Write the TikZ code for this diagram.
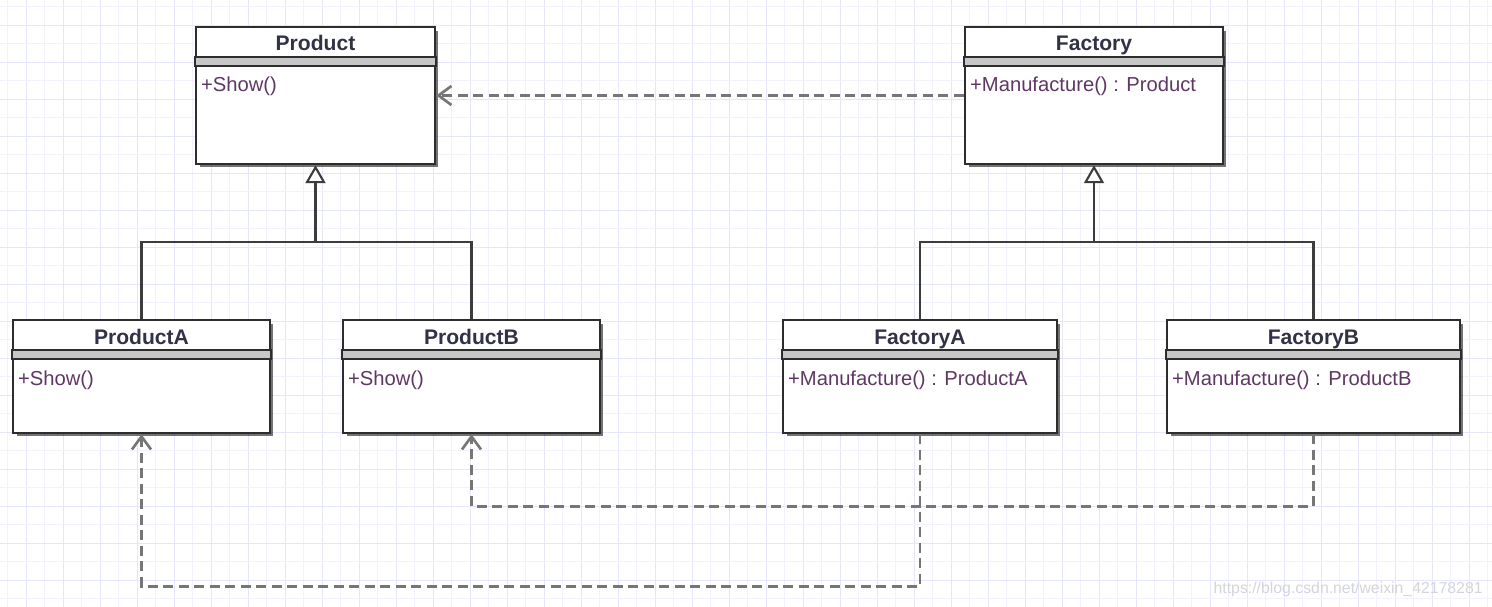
\documentclass[tikz,border=0pt]{standalone}
\usepackage{fontspec}
\setmainfont{Liberation Sans}
\usetikzlibrary{arrows.meta,positioning,shadows}
\definecolor{edge}{RGB}{45,45,45}
\definecolor{lnk}{RGB}{60,60,60}
\definecolor{depgray}{RGB}{118,118,118}
\definecolor{opname}{RGB}{95,55,100}
\definecolor{clsname}{RGB}{50,50,70}
\definecolor{gridlo}{RGB}{242,242,254}
\definecolor{gridhi}{RGB}{230,230,251}
\definecolor{wmark}{RGB}{212,212,222}

\begin{document}
\begin{tikzpicture}[x=0.02cm,y=-0.02cm,
  cls/.style={draw=edge,line width=1.4pt,fill=white,inner sep=0pt,
              drop shadow={shadow xshift=0.07cm,shadow yshift=-0.07cm,
                           fill=black,opacity=0.55}},
  title/.style={font=\fontsize{12}{14}\selectfont\bfseries,text=clsname,
                inner sep=0pt,anchor=base},
  oper/.style={font=\fontsize{11.5}{13}\selectfont,text=opname,
               anchor=base west,inner sep=0pt},
  sepband/.style={draw=edge,line width=1.3pt,fill=black!22},
  gen/.style={-{Triangle[length=0.36cm,width=0.40cm,fill=white]},draw=lnk,line width=1.2pt},
  tree/.style={draw=lnk,line width=1.3pt},
  depends/.style={-{Straight Barb[length=0.26cm,width=0.38cm]},draw=depgray,
                  line width=1.5pt,dash pattern=on 0.2cm off 0.11cm}]
\fill[white] (0,0) rectangle (1492,607);
\useasboundingbox (0,0) rectangle (1492,607);
% background grid
\foreach \i in {0,...,40} {
  \draw[gridlo,line width=0.5pt] (7.5+37*\i,0) -- (7.5+37*\i,607);
  \draw[gridhi,line width=0.5pt] (26+37*\i,0) -- (26+37*\i,607);
}
\foreach \j in {0,...,16} {
  \draw[gridlo,line width=0.5pt] (0,6.5+37*\j) -- (1492,6.5+37*\j);
  \draw[gridhi,line width=0.5pt] (0,25+37*\j) -- (1492,25+37*\j);
}

% classes
\node[cls,minimum width=4.78cm,minimum height=2.74cm] (prod) at (315.5,95.5) {};
\node[cls,minimum width=5.16cm,minimum height=2.74cm] (fac)  at (1094,95.5) {};
\node[cls,minimum width=5.14cm,minimum height=2.26cm] (pa)   at (141.5,376.5) {};
\node[cls,minimum width=5.14cm,minimum height=2.26cm] (pb)   at (471.5,376.5) {};
\node[cls,minimum width=5.48cm,minimum height=2.26cm] (fa)   at (920,376.5) {};
\node[cls,minimum width=5.86cm,minimum height=2.26cm] (fb)   at (1313.5,376.5) {};

\foreach \c in {prod,fac,pa,pb,fa,fb}
  \draw[sepband] ([yshift=-0.63cm]\c.north west) rectangle ([yshift=-0.80cm]\c.north east);

\node[title] (prodT) at ([yshift=-0.50cm]prod.north) {Product};
\node[title] (facT)  at ([yshift=-0.50cm]fac.north)  {Factory};
\node[title] (paT)   at ([yshift=-0.52cm]pa.north)   {ProductA};
\node[title] (pbT)   at ([yshift=-0.52cm]pb.north)   {ProductB};
\node[title] (faT)   at ([yshift=-0.52cm]fa.north)   {FactoryA};
\node[title] (fbT)   at ([yshift=-0.52cm]fb.north)   {FactoryB};

\node[oper] (prodO) at ([xshift=0.12cm,yshift=-1.32cm]prod.north west) {+Show()};
\node[oper] (facO)  at ([xshift=0.12cm,yshift=-1.32cm]fac.north west)  {+Manufacture() : Product};
\node[oper] (paO)   at ([xshift=0.12cm,yshift=-1.33cm]pa.north west)   {+Show()};
\node[oper] (pbO)   at ([xshift=0.12cm,yshift=-1.33cm]pb.north west)   {+Show()};
\node[oper] (faO)   at ([xshift=0.12cm,yshift=-1.33cm]fa.north west)   {+Manufacture() : ProductA};
\node[oper] (fbO)   at ([xshift=0.12cm,yshift=-1.33cm]fb.north west)   {+Manufacture() : ProductB};

% generalisation
\coordinate (jP) at (315.5,242);
\coordinate (jF) at (1094,242);
\draw[gen] (jP) -- (prod.south);
\draw[tree] (pa.north) |- (jP) -| (pb.north);
\draw[gen] (jF) -- (fac.south);
\draw[tree] (fa.north) |- (jF) -| (fb.north);

% dependencies
\draw[depends] (fac.west) -- (prod.east);
\draw[depends] (fb.south) -- ++(0,72) -| (pb.south);
\draw[depends] (fa.south) -- ++(0,152) -| (pa.south);

\node[font=\fontsize{9}{10}\selectfont,text=wmark,anchor=east,inner sep=0pt] (wm)
  at (1483,589) {https://blog.csdn.net/weixin\_42178281};
\end{tikzpicture}
\end{document}
